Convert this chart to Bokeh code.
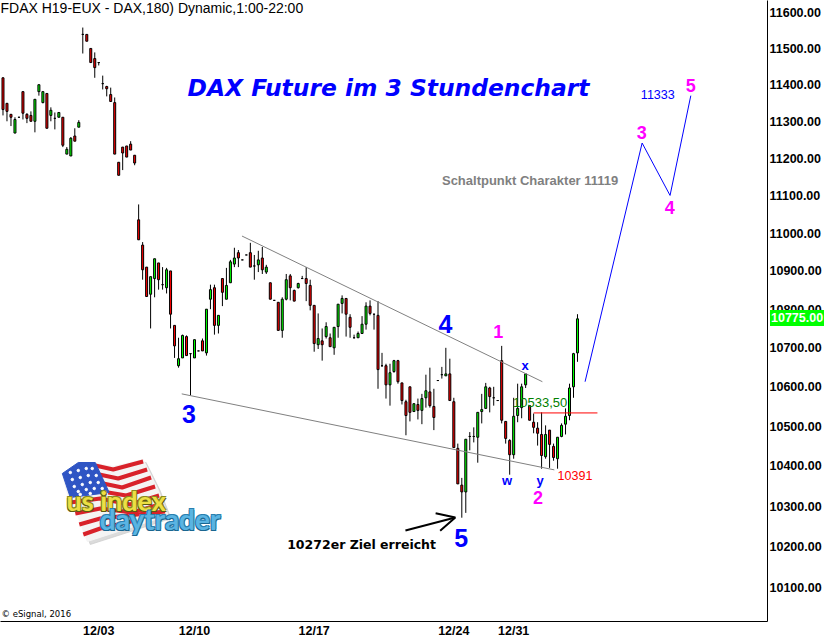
import math
from bokeh.plotting import figure
from bokeh.layouts import column
from bokeh.embed import file_html
from bokeh.resources import INLINE
from bokeh.core.properties import value
from bokeh.models import Range1d, FixedTicker, PrintfTickFormatter, Div, Arrow, OpenHead

opens = [11419,11349,11319,11268,11311,11381,11319,11316,11300,11381,11351,11376,11316,11308,11311,11311,11211,11206,11260,11284,
11539,11539,11500,11472,11461,11403,11395,11373,11351,11189,11230,11233,11238,11208,11035,10968,10910,10839,10880,10921,
10864,10856,10900,10758,10654,10674,10729,10685,10674,10692,10718,10687,10826,10856,10758,10880,10826,10869,10918,10948,
10929,10942,10948,10913,10916,10934,10897,10869,10823,10818,10745,10826,10887,10849,10856,10880,10880,10862,10810,10708,
10718,10729,10726,10700,10755,10815,10828,10779,10726,10726,10737,10761,10808,10787,10784,10654,10654,10605,10639,10667,
10610,10562,10600,10537,10555,10540,10572,10587,10550,10616,10631,10628,10633,10562,10444,10352,10335,10474,10474,10472,
10537,10545,10597,10572,10565,10667,10512,10464,10428,10527,10547,10605,10552,10510,10495,10479,10423,10490,10449,10418,
10474,10505,10527,10600,10687]
highs = [11419,11349,11319,11311,11311,11381,11322,11327,11360,11400,11381,11376,11338,11324,11324,11311,11230,11257,11281,11303,
11558,11539,11500,11489,11461,11425,11397,11392,11365,11189,11230,11233,11246,11208,11076,10976,10910,10885,10932,10921,
10910,10908,10900,10758,10726,10734,10732,10685,10721,10692,10724,10800,10864,10864,10784,10880,10908,10929,10961,10955,
10929,10942,10974,10942,10953,10963,10916,10869,10823,10818,10831,10892,10892,10851,10869,10887,10910,10877,10810,10789,
10750,10766,10737,10753,10813,10836,10828,10787,10734,10742,10782,10818,10823,10787,10821,10687,10659,10659,10669,10669,
10610,10567,10600,10557,10570,10582,10631,10649,10595,10616,10651,10700,10672,10572,10456,10370,10467,10485,10497,10535,
10582,10610,10600,10600,10565,10705,10512,10467,10572,10608,10608,10633,10552,10532,10510,10535,10502,10490,10456,10472,
10507,10545,10608,10687,10787]
lows = [11316,11300,11287,11268,11311,11305,11295,11300,11270,11370,11349,11281,11300,11278,11311,11230,11211,11206,11246,11284,
11486,11520,11461,11419,11453,11387,11368,11354,11211,11154,11168,11203,11222,11181,10982,10877,10833,10750,10831,10851,
10851,10841,10750,10674,10649,10674,10680,10578,10674,10692,10692,10680,10800,10734,10737,10808,10826,10869,10910,10910,
10929,10942,10910,10877,10897,10892,10892,10826,10823,10745,10726,10823,10823,10821,10854,10880,10821,10797,10690,10697,
10667,10724,10703,10682,10726,10789,10729,10726,10724,10726,10737,10747,10784,10747,10595,10651,10570,10552,10636,10608,
10555,10477,10512,10537,10517,10505,10547,10547,10490,10616,10621,10628,10565,10446,10355,10271,10283,10439,10459,10408,
10507,10545,10535,10552,10565,10507,10456,10378,10418,10510,10520,10597,10515,10482,10451,10393,10418,10395,10413,10393,
10472,10479,10515,10572,10664]
closes = [11332,11327,11311,11305,11311,11322,11308,11300,11360,11400,11381,11281,11330,11308,11324,11235,11224,11254,11246,11297,
11539,11520,11461,11447,11461,11403,11389,11354,11211,11154,11214,11203,11222,11187,10982,10903,10833,10885,10932,10877,
10864,10903,10787,10705,10672,10732,10680,10685,10721,10692,10692,10800,10851,10758,10784,10844,10862,10924,10934,10934,
10929,10942,10910,10913,10929,10903,10910,10826,10823,10745,10826,10877,10856,10821,10867,10880,10867,10810,10711,10724,
10708,10755,10703,10753,10813,10828,10787,10753,10726,10737,10761,10808,10789,10787,10644,10654,10605,10636,10667,10613,
10565,10527,10535,10557,10540,10570,10590,10552,10522,10616,10631,10633,10565,10446,10355,10335,10467,10474,10474,10535,
10542,10600,10575,10572,10565,10515,10469,10428,10525,10545,10600,10633,10515,10497,10482,10426,10479,10454,10421,10472,
10502,10525,10597,10685,10775]

price_ticks = [11600,11500,11400,11300,11200,11100,11000,10900,10800,10700,10600,10500,10400,10300,10200,10100]
date_ticks = [24,48,78,113,128]
date_labels = ["12/03","12/10","12/17","12/24","12/31"]

upper_x, upper_y = [59.9,135.2], [10992,10613]
lower_x, lower_y = [44.8,138.2], [10582,10390]
level_x, level_y = [133,149], [10533.5,10533.5]
plan_x, plan_y = [145.9,160.2,167.2,172.4], [10613,11241,11100,11370]


def px(x):
    return (x - 2.5) / 4


def py(y):
    return 11600 * math.exp(-(y - 12) / 4152)


p = figure(width=840, height=649, output_backend="svg", toolbar_location=None,
           x_range=Range1d(px(0), px(769)), y_range=Range1d(py(621), py(0)),
           y_axis_type="log", y_axis_location="right",
           min_border_left=8, min_border_right=55, min_border_top=8, min_border_bottom=20,
           background_fill_color="white", border_fill_color="white", outline_line_color=None)
p.margin = (-8, 0, 0, -8)
p.grid.visible = False

ya = p.yaxis[0]
ya.ticker = FixedTicker(ticks=price_ticks, minor_ticks=[])
ya.formatter = PrintfTickFormatter(format="%.2f")
xa = p.xaxis[0]
xa.ticker = FixedTicker(ticks=date_ticks, minor_ticks=[])
xa.major_label_overrides = dict(zip(date_ticks, date_labels))
for a in (xa, ya):
    a.major_tick_out = 0
    a.major_tick_in = 0
    a.minor_tick_out = 0
    a.minor_tick_in = 0
    a.major_tick_line_color = None
    a.minor_tick_line_color = None
    a.major_label_standoff = 2
    a.axis_line_color = "black"
    a.axis_line_width = 1
    a.major_label_text_font = "Liberation Sans"
    a.major_label_text_font_size = "12.5px"
    a.major_label_text_font_style = "bold"
    a.major_label_text_color = "black"

idx = list(range(len(opens)))
p.segment(idx, lows, idx, highs, line_color="black", line_width=1)
tops = [max(a, b) for a, b in zip(opens, closes)]
bots = [min(a, b) for a, b in zip(opens, closes)]
cols = ["#00ff00" if c > o else "#ff0000" for o, c in zip(opens, closes)]
p.vbar(idx, 0.5, tops, bots, fill_color=cols, line_color="black", line_width=1)

p.line(upper_x, upper_y, line_color="#808080", line_width=1)
p.line(lower_x, lower_y, line_color="#808080", line_width=1)
p.line(level_x, level_y, line_color="#ff0000", line_width=1)
p.line(plan_x, plan_y, line_color="#0000ff", line_width=1)

p.add_layout(Arrow(x_start=px(406), y_start=py(530), x_end=px(456), y_end=py(517),
                   line_color="black", line_width=2,
                   end=OpenHead(size=18, line_color="black", line_width=2)))


def txt(s, x, y, color, size, font="Liberation Sans", style="bold", align="center"):
    p.text([px(x)], [py(y)], text=[s], text_color=color, text_font=value(font),
           text_font_size=f"{size}px", text_font_style=style, text_align=align,
           text_baseline="middle")


txt("FDAX H19-EUX - DAX,180) Dynamic,1:00-22:00", 0, 7, "black", 14, style="normal", align="left")
txt("DAX Future im 3 Stundenchart", 389, 87, "#0000ff", 23.4, font="DejaVu Sans", style="bold italic")
txt("Schaltpunkt Charakter 11119", 531, 180, "#808080", 13)
txt("3", 189, 413, "#0000ff", 25)
txt("4", 446, 323, "#0000ff", 25)
txt("5", 462, 537, "#0000ff", 25)
txt("1", 499, 331, "#ff00ff", 18)
txt("x", 526, 365, "#0000ff", 13)
txt("w", 508, 480, "#0000ff", 13)
txt("y", 541, 480, "#0000ff", 13)
txt("2", 539, 497, "#ff00ff", 18)
txt("3", 643, 132, "#ff00ff", 18)
txt("4", 671, 207, "#ff00ff", 18)
txt("5", 692, 85, "#ff00ff", 18)
txt("10533,50", 541, 402, "#008000", 13, style="normal")
txt("10391", 576, 475, "#ff0000", 12.5, style="normal")
txt("11333", 659, 94, "#0000ff", 12.5, style="normal")
txt("10272er Ziel erreicht", 362, 544, "black", 12.5, font="DejaVu Sans")
txt("\u00a9 eSignal, 2016", 1, 613, "black", 8.5, font="DejaVu Sans", style="normal", align="left")

# logo
flag_x = [62,78,95,113,143,157,168,87,78,67]
flag_y = [473,463,463,466,459,487,515,541,517,493]
p.patch([px(v + 3) for v in flag_x], [py(v + 3) for v in flag_y], color="#cccccc", alpha=0.7)
p.patch([px(v) for v in flag_x], [py(v) for v in flag_y], color="#f4f4f4")
stripes = [
    [(95,465),(113,469),(143,461)], [(99,474),(118,478),(147,469)], [(103,483),(122,487),(151,477)],
    [(108,492),(126,495),(155,486)], [(70,502),(100,498),(130,504),(159,495)], [(75,513),(100,508),(132,512),(163,503)],
    [(79,524),(100,518),(165,511)], [(83,534),(100,528),(135,520)],
]
for s in stripes:
    p.line([px(a) for a, b in s], [py(b) for a, b in s], line_color="#d8222a", line_width=4)
cant_x = [62,78,95,109,70]
cant_y = [473,462,462,492,497]
p.patch([px(v) for v in cant_x], [py(v) for v in cant_y], color="#2f55c4")
sx = [70,78,86,92,72,80,88,96,74,82,90,98,78,86,94,102,80,90]
sy = [472,470,468,468,479,477,475,475,486,484,482,482,491,489,488,488,494,493]
p.scatter([px(v) for v in sx], [py(v) for v in sy], size=2.5, color="white")
for dx, dy, c in [(-1, 1, "#5a5a10"), (1, 1, "#5a5a10"), (1, -1, "#8a8a20"), (-1, -1, "#8a8a20"), (0, 0, "#ecdf44")]:
    txt("us index", 116 + dx, 500 + dy, c, 27, font="Lato")
for dx, dy, c in [(-1, 1, "#1a6690"), (1, 1, "#1a6690"), (1, -1, "#2a7fae"), (-1, -1, "#2a7fae"), (0, 0, "#5ab4e2")]:
    txt("daytrader", 160 + dx, 518 + dy, c, 28, font="Lato")

tag = Div(text="10775.00", width=54, height=16, margin=0,
          styles={"position": "absolute", "left": "770px", "top": "310px", "z-index": "10",
                  "background": "#00ff00", "color": "white", "font": "bold 12.5px 'Liberation Sans'",
                  "line-height": "16px", "padding-left": "1px", "overflow": "hidden"})
layout = column(p, tag, spacing=0)

open("out.html", "w").write(file_html(layout, INLINE))
